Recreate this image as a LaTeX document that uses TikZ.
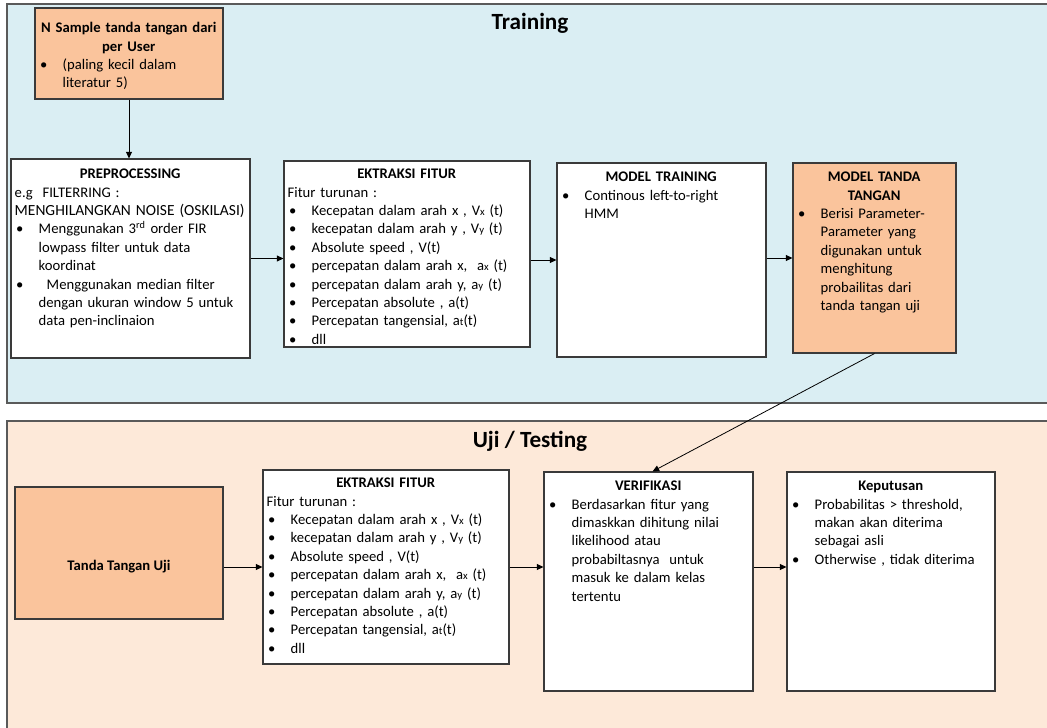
\documentclass[tikz,border=0pt]{standalone}
\usepackage{fontspec}
\setmainfont{Carlito}
\usetikzlibrary{arrows.meta,calc,fit}

\definecolor{trainbg}{HTML}{DAEEF3}
\definecolor{testbg}{HTML}{FDE9D9}
\definecolor{peach}{HTML}{FAC49C}
\definecolor{edge}{HTML}{3A3A3A}
\definecolor{paneledge}{HTML}{5A5A5A}

% list helpers: centred bold heading, bulleted line, continuation line
\newlength\bulw \setlength\bulw{18pt}
\newcommand\hd[1]{\makebox[\hsize]{\strut\bfseries #1}}
\newcommand\bl[1]{\makebox[\bulw][l]{\hspace{1pt}\textbullet}\mbox{#1}}
\newcommand\cl[1]{\hspace*{\bulw}\mbox{#1}}
\newcommand\sm[1]{{\fontsize{8}{8}\selectfont #1}}

\begin{document}
\begin{tikzpicture}[x=0.75pt,y=-0.75pt,
  panel/.style={draw=paneledge, line width=1.1pt, inner sep=0pt},
  blk/.style={draw=edge, line width=0.8pt, fill=white, inner sep=0pt},
  hot/.style={blk, fill=peach},
  body/.style={inner sep=0pt, anchor=north west, align=left,
               font=\fontsize{11}{13.8}\selectfont},
  title/.style={font=\bfseries\fontsize{17.4}{20}\selectfont, anchor=base},
  link/.style={draw=black, line width=0.6pt, -{Triangle[length=5pt,width=4.5pt]}}]

\useasboundingbox (0,0) rectangle (1047,728);
\clip (0,0) rectangle (1047,728);

% background panels
\node[panel, fill=trainbg, fit={(7,4) (1060,403)}] (trainpanel) {};
\node[panel, fill=testbg, fit={(7,421) (1060,740)}] (testpanel) {};

\node[title] (ttrain) at (530,30) {Training};
\node[title] (ttest) at (530,447) {Uji / Testing};

% ---------- training stage ----------
\node[hot, fit={(35,8) (223,99)}] (n1) {};
\node[body, text width=135pt] (n1t) at ($(n1.north west)+(4,12)$) {%
  \hd{N Sample tanda tangan dari}\\
  \hd{per User}\\
  \bl{(paling kecil dalam}\\
  \cl{literatur 5)}};

\node[blk, fit={(11,159) (250,358)}] (pre) {};
\node[body, text width=173.25pt] (pret) at ($(pre.north west)+(4,7)$) {%
  \hd{PREPROCESSING}\\
  \mbox{e.g\ \ FILTERRING :}\\
  \mbox{\fontsize{11.6}{13.8}\selectfont MENGHILANGKAN NOISE (OSKILASI)}\\
  \bl{Menggunakan 3\textsuperscript{rd} order FIR}\\
  \cl{lowpass filter untuk data}\\
  \cl{koordinat}\\
  \bl{\hspace{6pt}Menggunakan median filter}\\
  \cl{dengan ukuran window 5 untuk}\\
  \cl{data pen-inclinaion}};

\node[blk, fit={(284,161) (530,347)}] (ext1) {};
\node[body, text width=178.5pt] (ext1t) at ($(ext1.north west)+(4,5)$) {%
  \hd{EKTRAKSI FITUR}\\
  \mbox{Fitur turunan :}\\
  \bl{Kecepatan dalam arah x , V\sm{x} (t)}\\
  \bl{kecepatan dalam arah y , V\sm{y} (t)}\\
  \bl{Absolute speed , V(t)}\\
  \bl{percepatan dalam arah x,\ \ a\sm{x} (t)}\\
  \bl{percepatan dalam arah y, a\sm{y} (t)}\\
  \bl{Percepatan absolute , a(t)}\\
  \bl{Percepatan tangensial, a\sm{t}(t)}\\
  \bl{dll}};

\node[blk, fit={(557,163) (766,357)}] (mt) {};
\node[body, text width=150.75pt] (mtt) at ($(mt.north west)+(4,6)$) {%
  \hd{MODEL TRAINING}\\
  \bl{Continous left-to-right}\\
  \cl{HMM}};

\node[hot, fit={(793,163) (956,353)}] (mtd) {};
\node[body, text width=116.25pt] (mtdt) at ($(mtd.north west)+(4,6)$) {%
  \hd{MODEL TANDA}\\
  \hd{TANGAN}\\
  \bl{Berisi Parameter-}\\
  \cl{Parameter yang}\\
  \cl{digunakan untuk}\\
  \cl{menghitung}\\
  \cl{probailitas dari}\\
  \cl{tanda tangan uji}};

% ---------- testing stage ----------
\node[hot, fit={(15,487) (223,619)}] (uji) {};
\node[font=\bfseries\fontsize{11}{13.8}\selectfont] (ujit) at (119,567) {Tanda Tangan Uji};

\node[blk, fit={(263,470) (509,664)}] (ext2) {};
\node[body, text width=178.5pt] (ext2t) at ($(ext2.north west)+(4,5)$) {%
  \hd{EKTRAKSI FITUR}\\
  \mbox{Fitur turunan :}\\
  \bl{Kecepatan dalam arah x , V\sm{x} (t)}\\
  \bl{kecepatan dalam arah y , V\sm{y} (t)}\\
  \bl{Absolute speed , V(t)}\\
  \bl{percepatan dalam arah x,\ \ a\sm{x} (t)}\\
  \bl{percepatan dalam arah y, a\sm{y} (t)}\\
  \bl{Percepatan absolute , a(t)}\\
  \bl{Percepatan tangensial, a\sm{t}(t)}\\
  \bl{dll}};

\node[blk, fit={(544,472) (753,691)}] (ver) {};
\node[body, text width=150.75pt] (vert) at ($(ver.north west)+(4,6)$) {%
  \hd{VERIFIKASI}\\
  \bl{Berdasarkan fitur yang}\\
  \cl{dimaskkan dihitung nilai}\\
  \cl{likelihood atau}\\
  \cl{probabiltasnya\ \ untuk}\\
  \cl{masuk ke dalam kelas}\\
  \cl{tertentu}};

\node[blk, fit={(787,472) (995,691)}] (kep) {};
\node[body, text width=150pt] (kept) at ($(kep.north west)+(4,6)$) {%
  \hd{Keputusan}\\
  \bl{Probabilitas > threshold,}\\
  \cl{makan akan diterima}\\
  \cl{sebagai asli}\\
  \bl{Otherwise , tidak diterima}};

% ---------- connectors ----------
\draw[link] (n1.south) -- (n1.south |- pre.north);
\draw[link] (pre.east) -- (pre.east -| ext1.west);
\draw[link] (ext1.east |- mt.west) -- (mt.west);
\draw[link] (mt.east |- mtd.west) -- (mtd.west);
\coordinate (verin) at ($(ver.north)+(4,0)$);
\draw[link] (mtd.south) -- (verin);
\draw[link] (uji.east |- ext2.west) -- (ext2.west);
\draw[link] (ext2.east) -- (ext2.east -| ver.west);
\draw[link] (ext2.east -| ver.east) -- (ext2.east -| kep.west);
\end{tikzpicture}
\end{document}
